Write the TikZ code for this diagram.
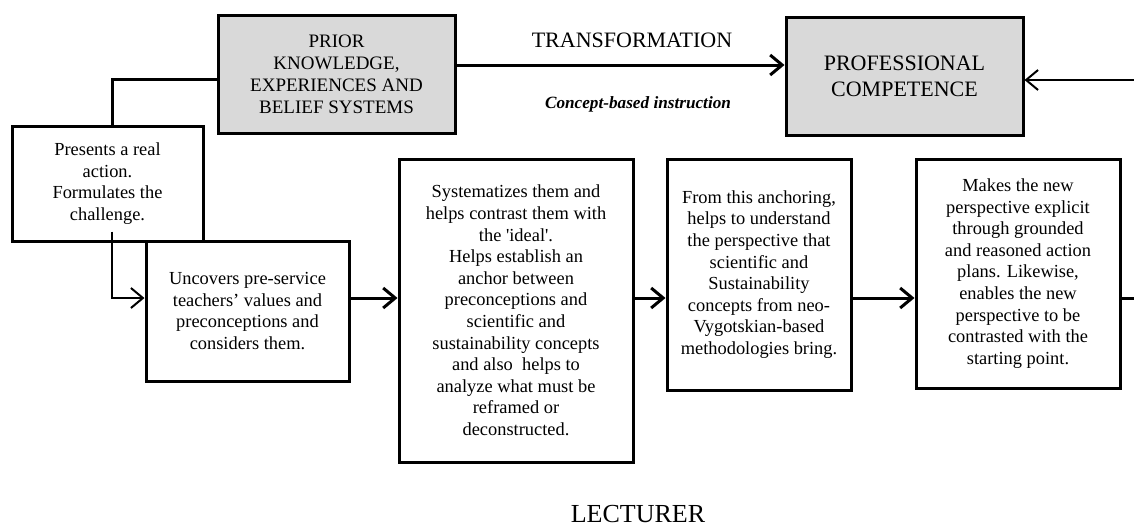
\documentclass[tikz,border=0pt]{standalone}
\usepackage{fontspec}
\setmainfont{Liberation Serif}
\usetikzlibrary{arrows.meta}

\begin{document}
\begin{tikzpicture}[x=0.5pt,y=-0.5pt,
  box/.style={rectangle, draw, line width=1.5pt, inner sep=0pt, align=center, font=\fontsize{9.2}{10.8}\selectfont},
  graybox/.style={box, fill=black!15},
  link/.style={line width=1.5pt, -{Straight Barb[length=6pt,width=10pt]}},
  thinlink/.style={line width=1pt, -{Straight Barb[length=6pt,width=10pt]}}]
  \useasboundingbox (0,0) rectangle (1134,530);

  \node[graybox, minimum width=118.5pt, minimum height=59pt, font=\fontsize{9.5}{11}\selectfont] (prior) at (336.5,74) {PRIOR\\KNOWLEDGE,\\EXPERIENCES AND\\BELIEF SYSTEMS};
  \node[graybox, minimum width=118.5pt, minimum height=59pt, font=\fontsize{11}{13}\selectfont] (prof) at (904.5,76) {PROFESSIONAL\\COMPETENCE};
  \node[box, minimum width=95.5pt, minimum height=57.5pt] (presents) at (107.5,183.5) {Presents a real\\action.\\Formulates the\\challenge.};
  \node[box, minimum width=101.5pt, minimum height=70pt] (uncovers) at (247.5,311) {Uncovers pre-service\\teachers' values and\\preconceptions and\\considers them.};
  \node[box, minimum width=117pt, minimum height=151.5pt] (system) at (516,310.5) {Systematizes them and\\helps contrast them with\\the \textquotesingle ideal\textquotesingle.\\Helps establish an\\anchor between\\preconceptions and\\scientific and\\sustainability concepts\\and also\ \ helps to\\analyze what must be\\reframed or\\deconstructed.};
  \node[box, minimum width=92pt, minimum height=115.5pt] (anchor) at (759,274.5) {From this anchoring,\\helps to understand\\the perspective that\\scientific and\\Sustainability\\concepts from neo-\\Vygotskian-based\\methodologies bring.};
  \node[box, minimum width=102pt, minimum height=114.5pt] (makes) at (1018,273.5) {Makes the new\\perspective explicit\\through grounded\\and reasoned action\\plans. Likewise,\\enables the new\\perspective to be\\contrasted with the\\starting point.};

  \node[font=\fontsize{11}{13}\selectfont] (transf) at (632,40) {TRANSFORMATION};
  \node[font=\fontsize{8.6}{10}\selectfont\bfseries\itshape] (concept) at (638,104) {Concept-based instruction};
  \node[font=\fontsize{13}{15}\selectfont] (lecturer) at (638,514) {LECTURER};

  \coordinate (top) at (0,65);
  \coordinate (mid) at (0,298);
  \coordinate (rin) at (1134,80);
  \coordinate (rout) at (1134,298);

  \draw[line width=1.5pt] ([xshift=2.5pt]presents.north) |- (prior.west |- 0,79);
  \draw[link] (prior.east |- top) -- (prof.west |- top);
  \draw[thinlink] (rin) -- (prof.east |- rin);
  \draw[thinlink] ([xshift=2pt,yshift=5.5pt]presents.south) |- (uncovers.west |- mid);
  \draw[link] (uncovers.east |- mid) -- (system.west |- mid);
  \draw[link] (system.east |- mid) -- (anchor.west |- mid);
  \draw[link] (anchor.east |- mid) -- (makes.west |- mid);
  \draw[line width=1.5pt] (makes.east |- mid) -- (rout);
\end{tikzpicture}
\end{document}
